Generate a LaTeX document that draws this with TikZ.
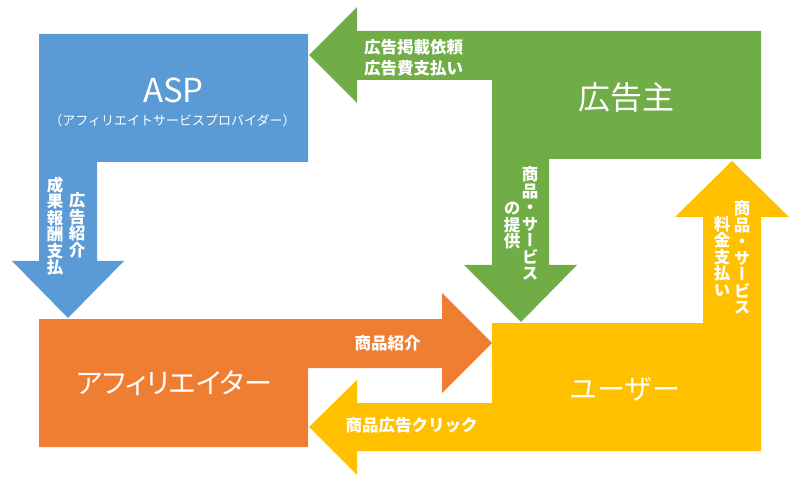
\documentclass[tikz,border=0pt]{standalone}
\usepackage{fontspec}
\setmainfont{Noto Sans CJK JP}
\newfontfamily\cjkvert[RawFeature=+vert]{Noto Sans CJK JP}
\newfontfamily\cjkprop[RawFeature=+palt]{Noto Sans CJK JP}
\usepackage{tikz}

\definecolor{asp_blue}{HTML}{5B9BD5}
\definecolor{adv_green}{HTML}{70AD47}
\definecolor{aff_orange}{HTML}{EF7E33}
\definecolor{user_yellow}{HTML}{FFC000}

\tikzset{
    title/.style={text=white, inner sep=0pt, font=\fontsize{30}{32}\selectfont},
    flow_label/.style={text=white, inner sep=0pt, align=center, font=\bfseries\fontsize{16.5}{21}\selectfont},
    vert_label/.style={text=white, inner sep=0pt, align=center, font=\cjkvert\bfseries\fontsize{16.5}{16.5}\selectfont},
}

\begin{document}
\begin{tikzpicture}[x=1pt, y=-1pt]
    \useasboundingbox (0,0) rectangle (800,486);

    % ASP block with arrow down
    \fill [asp_blue] (39,34) -- (308,34) -- (308,162) -- (97,162) -- (97,261) -- (124,261)
        -- (68,318) -- (12,261) -- (39,261) -- cycle;
    % advertiser block with arrows left and down
    \fill [adv_green] (761,31) -- (761,159) -- (549,159) -- (549,265) -- (577,265) -- (521,322)
        -- (464,265) -- (492,265) -- (492,80) -- (357,80) -- (357,103) -- (309,55) -- (357,7)
        -- (357,31) -- cycle;
    % affiliator block with arrow right
    \fill [aff_orange] (39,319) -- (442,319) -- (442,293) -- (492,343) -- (442,393) -- (442,368)
        -- (308,368) -- (308,447) -- (39,447) -- cycle;
    % user block with arrows up and left
    \fill [user_yellow] (761,451) -- (357,451) -- (357,475) -- (309,427) -- (357,380) -- (357,403)
        -- (492,403) -- (492,323) -- (703,323) -- (703,217) -- (675,217) -- (732,161) -- (789,217)
        -- (761,217) -- cycle;

    \node [title, font=\fontsize{33}{35}\selectfont] (asp_title) at (173.5, 90) {ASP};
    \node [title, font=\fontsize{13}{15}\selectfont] (asp_sub) at (172.5, 121) {（アフィリエイトサービスプロバイダー）};
    \node [title, font=\fontsize{32}{34}\selectfont] (adv_title) at (626, 97) {広告主};
    \node [title, font=\cjkprop\fontsize{28}{30}\selectfont] (aff_title) at (174, 383) {アフィリエイター};
    \node [title, font=\fontsize{28}{30}\selectfont] (user_title) at (625, 389) {ユーザー};

    \node [flow_label] (adv_asp) at (413.5, 58) {広告掲載依頼\\広告費支払い};
    \node [flow_label] (aff_user) at (387.5, 343) {商品紹介};
    \node [flow_label] (user_aff) at (411.5, 425) {商品広告クリック};

    \node [vert_label] (asp_aff_a) at (77, 225) {広\\告\\紹\\介};
    \node [vert_label] (asp_aff_b) at (55, 226) {成\\果\\報\\酬\\支\\払};
    \node [vert_label] (adv_user_a) at (530, 223.5) {商\\品\\・\\サ\\ー\\ビ\\ス};
    \node [vert_label] (adv_user_b) at (512, 226) {の\\提\\供};
    \node [vert_label] (user_adv_a) at (742, 257.5) {商\\品\\・\\サ\\ー\\ビ\\ス};
    \node [vert_label] (user_adv_b) at (722, 256.5) {料\\金\\支\\払\\い};
\end{tikzpicture}
\end{document}
